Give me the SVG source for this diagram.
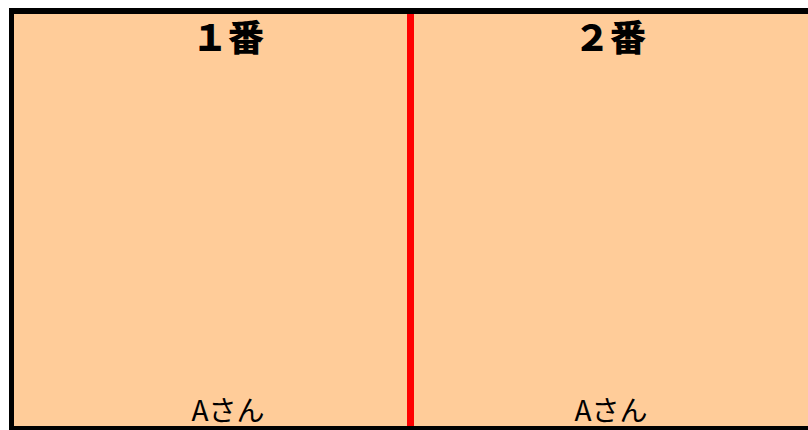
<svg xmlns="http://www.w3.org/2000/svg" width="808" height="430" viewBox="0 0 808 430">
<style>
.title{font-family:"Noto Sans CJK JP","Noto Sans",sans-serif;font-weight:900;font-size:36px;fill:#000;text-anchor:middle}
.name{font-family:"Noto Sans CJK JP","Noto Sans",sans-serif;font-size:28px;fill:#000;text-anchor:middle}
</style>
<rect x="0" y="0" width="808" height="430" fill="#fff"/>
<g id="panel1">
<rect x="14" y="14" width="396" height="412" fill="#FFCC99"/>
<text class="title" x="228" y="51">１番</text>
<text class="name" x="228" y="421">Aさん</text>
</g>
<g id="panel2">
<rect x="410" y="14" width="398" height="412" fill="#FFCC99"/>
<text class="title" x="610" y="51">２番</text>
<text class="name" x="611" y="421">Aさん</text>
</g>
<g id="connectors">
<rect x="9" y="8" width="799" height="6" fill="#000"/>
<rect x="9" y="8" width="5" height="422" fill="#000"/>
<rect x="9" y="426" width="799" height="4" fill="#000"/>
<rect x="407" y="14" width="7" height="412" fill="#FF0000"/>
</g>
</svg>
